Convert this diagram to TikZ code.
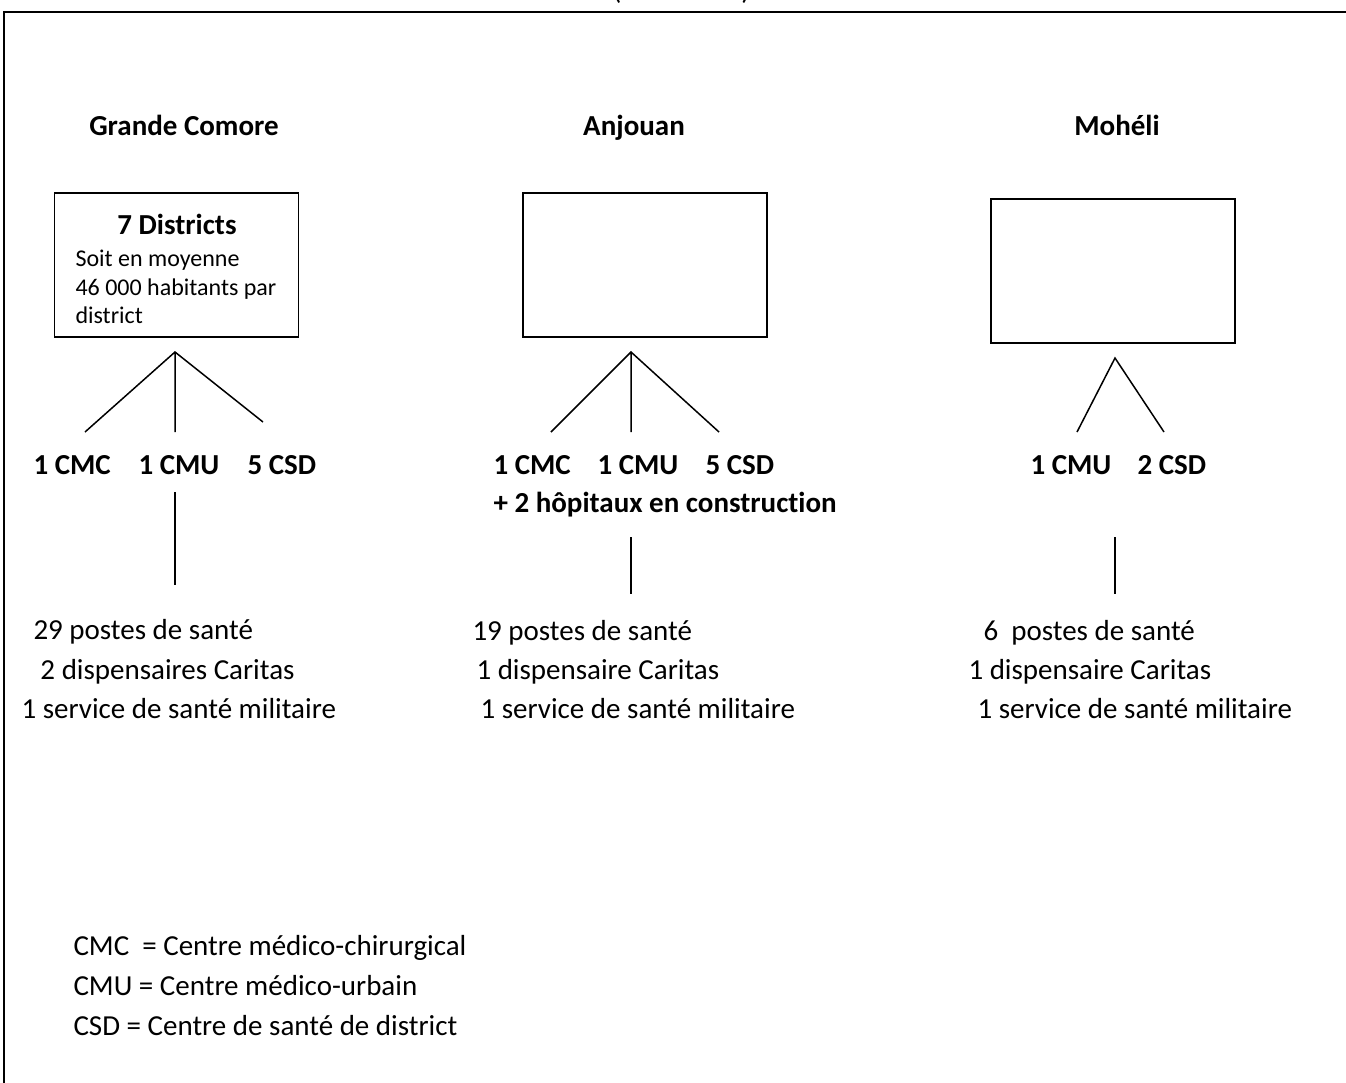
\documentclass[tikz,border=0pt]{standalone}
\usepackage{fontspec}
\setmainfont{Carlito}[Ligatures=NoCommon]
\begin{document}
\begin{tikzpicture}[x=0.4pt,y=-0.4pt,
        trait/.style={line width=0.6pt},
        boite/.style={draw,line width=0.6pt,minimum width=97.6pt,minimum height=57.6pt,inner sep=0pt},
        ile/.style={font=\bfseries\fontsize{11.6}{14}\selectfont,anchor=base,inner sep=0pt},
        sigle/.style={font=\bfseries\fontsize{11.6}{14}\selectfont,anchor=base west,inner sep=0pt},
        txt/.style={font=\fontsize{11.6}{14}\selectfont,anchor=base west,inner sep=0pt},
        petit/.style={font=\fontsize{9.6}{12}\selectfont,anchor=base west,inner sep=0pt}]
        \useasboundingbox (0,0) rectangle (1346,1082);
        \draw[line width=0.8pt] (4,12) rectangle (1400,1150);
        \node[txt] (titre) at (612,-1) {(\hspace{48pt})};
        % les trois iles
        \node[ile] (gc) at (184,135) {Grande Comore};
        \node[ile] (anj) at (634,135) {Anjouan};
        \node[ile] (moh) at (1117,135) {Mohéli};
        \node[boite] (b1) at (176.5,265) {};
        \node[boite] (b2) at (645,265) {};
        \node[boite] (b3) at (1113,271) {};
        \node[ile] (dist) at (177,234) {7 Districts};
        \node[petit] (soit) at (75,266) {Soit en moyenne};
        \node[petit] (hab) at (75,295) {46 000 habitants par};
        \node[petit] (par) at (75,323) {district};
        % Grande Comore
        \coordinate (gcA) at (175,352);
        \coordinate (gcL) at (85,432);
        \coordinate (gcM) at (175,432);
        \coordinate (gcR) at (263,422);
        \draw[trait] (gcL)--(gcA)--(gcR) (gcA)--(gcM);
        \node[sigle] (gc1) at (33,474) {1 CMC};
        \node[sigle] (gc2) at (138,474) {1 CMU};
        \node[sigle] (gc3) at (247,474) {5 CSD};
        \coordinate (gcH) at (175,492);
        \coordinate (gcB) at (175,585);
        \draw[trait] (gcH)--(gcB);
        \node[txt] (gcp) at (33,639) {29 postes de santé};
        \node[txt] (gcd) at (40,679) {2 dispensaires Caritas};
        \node[txt] (gcs) at (21,718) {1 service de santé militaire};
        % Anjouan
        \coordinate (anA) at (631,352);
        \coordinate (anL) at (551,432);
        \coordinate (anM) at (631,432);
        \coordinate (anR) at (719,432);
        \draw[trait] (anL)--(anA)--(anR) (anA)--(anM);
        \node[sigle] (an1) at (493,474) {1 CMC};
        \node[sigle] (an2) at (597,474) {1 CMU};
        \node[sigle] (an3) at (705,474) {5 CSD};
        \node[sigle] (anh) at (493,512) {+ 2 hôpitaux en construction};
        \coordinate (anH) at (631,537);
        \coordinate (anB) at (631,594);
        \draw[trait] (anH)--(anB);
        \node[txt] (anp) at (472,640) {19 postes de santé};
        \node[txt] (and) at (476,679) {1 dispensaire Caritas};
        \node[txt] (ans) at (480,718) {1 service de santé militaire};
        % Moheli
        \coordinate (moA) at (1115,358);
        \coordinate (moL) at (1077,432);
        \coordinate (moR) at (1164,432);
        \draw[trait] (moL)--(moA)--(moR);
        \node[sigle] (mo2) at (1030,474) {1 CMU};
        \node[sigle] (mo3) at (1137,474) {2 CSD};
        \coordinate (moH) at (1115,537);
        \coordinate (moB) at (1115,594);
        \draw[trait] (moH)--(moB);
        \node[txt] (mop) at (983,640) {6\ \ postes de santé};
        \node[txt] (mod) at (968,679) {1 dispensaire Caritas};
        \node[txt] (mos) at (977,718) {1 service de santé militaire};
        % legende
        \node[txt] (lg1) at (73,955) {CMC\ \ = Centre médico-chirurgical};
        \node[txt] (lg2) at (73,995) {CMU = Centre médico-urbain};
        \node[txt] (lg3) at (73,1035) {CSD = Centre de santé de district};
\end{tikzpicture}
\end{document}
